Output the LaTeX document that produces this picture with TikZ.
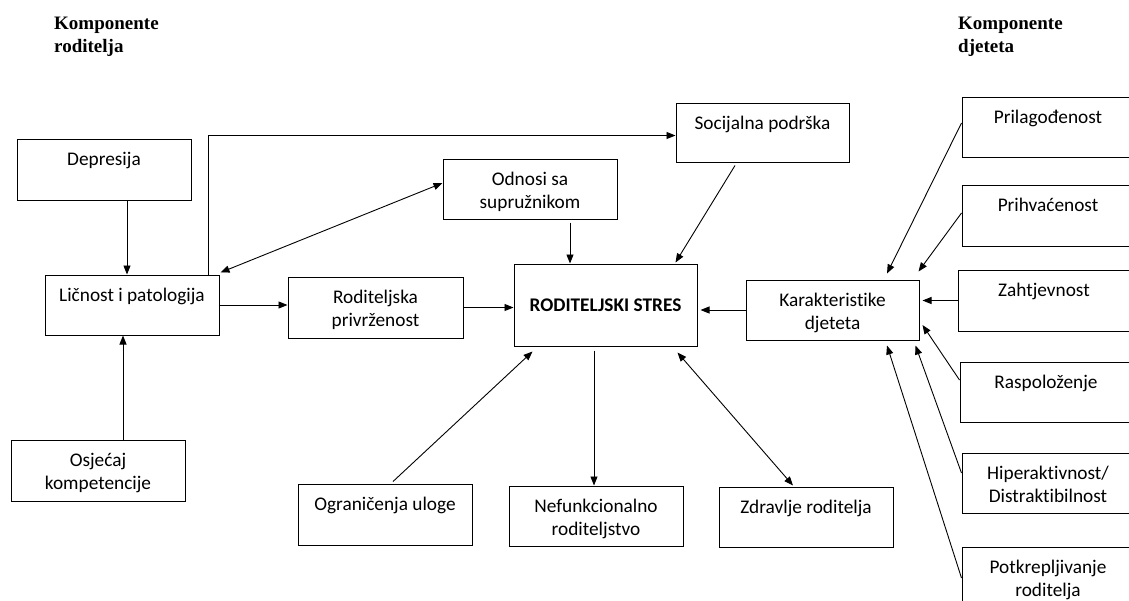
\documentclass[tikz,border=0pt]{standalone}
\usepackage{fontspec}
\setmainfont{Carlito}[Ligatures={NoCommon}]
\newfontfamily\hdrfont{Liberation Serif}
\usetikzlibrary{arrows.meta,calc}
\newcommand{\bt}[3]{\parbox[c][#2][t]{#1}{\vspace*{10pt}\centering\strut #3\par}}
\begin{document}
\begin{tikzpicture}[x=1pt,y=-1pt,
  bx/.style={draw, line width=1pt, inner sep=0pt, font=\fontsize{19.3}{23.5}\selectfont},
  mainbx/.style={draw, line width=1pt, inner sep=0pt, minimum width=183pt, minimum height=82pt, font=\fontsize{19.3}{23.5}\selectfont\bfseries},
  hdr/.style={anchor=north west, inner sep=0pt, align=left, font=\hdrfont\bfseries\fontsize{19}{23}\selectfont},
  arr/.style={line width=0.9pt, -{Triangle[length=9pt,width=7pt]}},
  arrb/.style={line width=0.9pt, {Triangle[length=9pt,width=7pt]}-{Triangle[length=9pt,width=7pt]}}]
\useasboundingbox (0,0) rectangle (1129,600);
\clip (0,0) rectangle (1129,600);
% headers
\node[hdr] (hl) at (54,16.5) {Komponente\\roditelja};
\node[hdr] (hr) at (958,16.5) {Komponente\\djeteta};
% boxes
\node[bx] (dep) at (104,169.5) {\bt{174pt}{61pt}{Depresija}};
\node[bx] (lic) at (132,305) {\bt{174pt}{60pt}{Ličnost i patologija}};
\node[bx] (osj) at (98,470.5) {\bt{174pt}{61pt}{Osjećaj\\kompetencije}};
\node[bx] (rod) at (375.5,307.5) {\bt{175pt}{61pt}{Roditeljska\\privrženost}};
\node[bx] (odn) at (530,189) {\bt{174pt}{60pt}{Odnosi sa\\supružnikom}};
\node[bx] (soc) at (762.5,132.5) {\bt{173pt}{59pt}{Socijalna podrška}};
\node[mainbx] (rs) at (605.5,305) {RODITELJSKI STRES};
\node[bx] (kar) at (832.5,310) {\bt{173pt}{60pt}{Karakteristike\\djeteta}};
\node[bx] (nef) at (596,516) {\bt{174pt}{60pt}{Nefunkcionalno\\roditeljstvo}};
\node[bx] (zdr) at (806,517) {\bt{174pt}{60pt}{Zdravlje roditelja}};
\node[bx] (ogr) at (385,514.5) {\bt{174pt}{61pt}{Ograničenja uloge}};
\node[bx] (pri) at (1048,127) {\bt{172pt}{60pt}{Prilagođenost}};
\node[bx] (prh) at (1048,215.5) {\bt{172pt}{61pt}{Prihvaćenost}};
\node[bx] (zah) at (1044,300.5) {\bt{172pt}{61pt}{Zahtjevnost}};
\node[bx] (ras) at (1046,392) {\bt{172pt}{60pt}{Raspoloženje}};
\node[bx] (hip) at (1048,483) {\bt{172pt}{60pt}{Hiperaktivnost/\\Distraktibilnost}};
\node[bx] (pot) at (1048,577.5) {\bt{172pt}{61pt}{Potkrepljivanje\\roditelja}};
% helper coordinates
\coordinate (db) at ($(dep.south)+(23,0)$);
\coordinate (ot) at ($(osj.north)+(25,0)$);
\coordinate (lt) at ($(lic.north)+(76,0)$);
\coordinate (ob) at ($(odn.south)+(40,3)$);
\coordinate (rsb) at ($(rs.south)+(-11.5,4)$);
% connectors
\draw[arr] (db) -- (db |- lic.north);
\draw[arr] (ot) -- (ot |- lic.south);
\draw[arr] (lt) |- ($(soc.west)+(0,3)$);
\draw[arrb] ($(odn.west)+(0,-6)$) -- ($(lic.north east)+(1,-2)$);
\draw[arr] (ob) -- (ob |- rs.north);
\draw[arr] ($(soc.south)+(-27.5,3)$) -- ($(rs.north east)+(-22,-1)$);
\draw[arr] (lic.east) -- (lic.east -| rod.west);
\draw[arr] (rod.east) -- (rod.east -| rs.west);
\draw[arr] (kar.west) -- ($(kar.west -| rs.east)+(3,0)$);
\draw[arr] (rsb) -- (rsb |- nef.north);
\draw[arr] ($(ogr.north)+(8,-2)$) -- ($(rs.south west)+(19,5)$);
\draw[arrb] ($(rs.south east)+(-20,6)$) -- ($(zdr.north)+(-13,-1)$);
\draw[arr] ($(pri.west)+(0,-4)$) -- ($(kar.north)+(54.5,-6)$);
\draw[arr] ($(prh.west)+(0,-2.5)$) -- ($(kar.north east)+(-1,-8)$);
\draw[arr] (zah.west) -- ($(zah.west -| kar.east)+(3,0)$);
\draw[arr] ($(ras.west)+(0,-12)$) -- ($(kar.east)+(3,15)$);
\draw[arr] ($(hip.west)+(0,-10)$) -- ($(kar.south east)+(-4,5)$);
\draw[arr] ($(pot.west)+(0,0.5)$) -- ($(kar.south)+(54.5,5)$);
\end{tikzpicture}
\end{document}
